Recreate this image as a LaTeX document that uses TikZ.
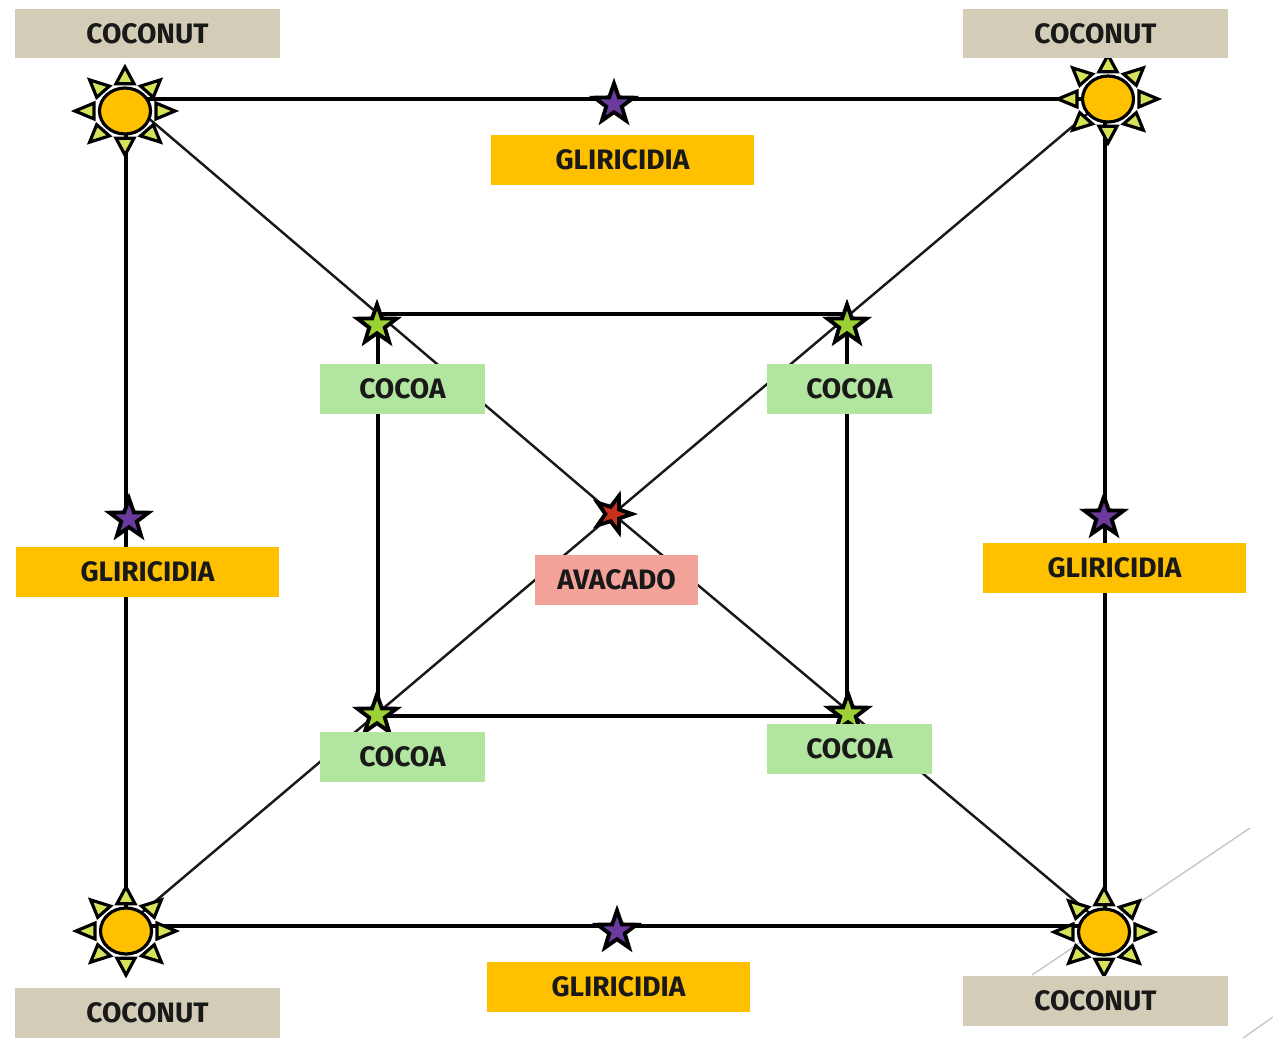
\documentclass[tikz,border=0pt]{standalone}
\usepackage{fontspec}
\setmainfont{Fira Sans}
\usetikzlibrary{shapes.geometric}
\usetikzlibrary{backgrounds}

\definecolor{coconutTan}{HTML}{D3CDB7}
\definecolor{gliriOrange}{HTML}{FFC000}
\definecolor{cocoaGreen}{HTML}{B2E5A0}
\definecolor{avacadoPink}{HTML}{F4A39B}
\definecolor{rayGreen}{HTML}{D6E35A}
\definecolor{starGreen}{HTML}{9BD136}
\definecolor{starPurple}{HTML}{6A3A9C}
\definecolor{starRed}{HTML}{C8321C}

\tikzset{
  plantbox/.style={rectangle,inner sep=0pt,minimum height=1cm,font=\fontsize{16}{18}\selectfont\bfseries,text=black!90},
  coconutbox/.style={plantbox,fill=coconutTan,minimum width=5.3cm},
  gliribox/.style={plantbox,fill=gliriOrange,minimum width=5.28cm},
  cocoabox/.style={plantbox,fill=cocoaGreen,minimum width=3.3cm},
  avacadobox/.style={plantbox,fill=avacadoPink,minimum width=3.26cm},
  treestar/.style={star,star points=5,star point ratio=2.5,inner sep=0pt,minimum size=0.82cm,draw=black,line width=2.2pt},
  sundisc/.style={ellipse,inner sep=0pt,minimum width=1.02cm,minimum height=0.92cm,draw=black,line width=1.8pt,fill=gliriOrange},
  sunray/.style={draw=black,line width=1.8pt,fill=rayGreen},
  thickrow/.style={black,line width=2pt},
  thinrow/.style={black!90,line width=1.4pt}
}

\begin{document}
\begin{tikzpicture}[x=0.02cm,y=-0.02cm]
\useasboundingbox (0,0) rectangle (1273,1038);

% sun marks
\foreach \nm/\px/\py in {sunTL/125/111,sunTR/1108/99,sunBL/126/931,sunBR/1104/932}{
  \foreach \a in {0,45,...,315}
    \draw[sunray,shift={(\px,\py)},yscale=0.88,rotate=\a] (31,-9) -- (50,0) -- (31,9) -- cycle;
  \node[sundisc] (\nm) at (\px,\py) {};
}

% stars
\node[treestar,fill=starPurple] (starTop) at (614,104) {};
\node[treestar,fill=starPurple] (starLeft) at (129,519) {};
\node[treestar,fill=starPurple] (starRight) at (1104,517) {};
\node[treestar,fill=starPurple] (starBottom) at (617,931) {};
\node[treestar,fill=starGreen] (starInTL) at (377,325) {};
\node[treestar,fill=starGreen] (starInTR) at (847,325) {};
\node[treestar,fill=starGreen] (starInBL) at (377,715) {};
\node[treestar,fill=starGreen] (starInBR) at (848,714) {};
\node[treestar,fill=starRed,shape border rotate=-18,minimum size=0.76cm] (starMid) at (613,514) {};

% labels
\node[coconutbox] (coconutTL) at (147.5,33.5) {COCONUT};
\node[coconutbox] (coconutTR) at (1095.5,33.5) {COCONUT};
\node[coconutbox] (coconutBL) at (147.5,1012.5) {COCONUT};
\node[coconutbox] (coconutBR) at (1095.5,1001) {COCONUT};
\node[gliribox] (gliriTop) at (622.5,160) {GLIRICIDIA};
\node[gliribox] (gliriLeft) at (147.5,572) {GLIRICIDIA};
\node[gliribox] (gliriRight) at (1114.5,568) {GLIRICIDIA};
\node[gliribox] (gliriBottom) at (618.5,986.5) {GLIRICIDIA};
\node[cocoabox] (cocoaTL) at (402.5,389) {COCOA};
\node[cocoabox] (cocoaTR) at (849.5,389) {COCOA};
\node[cocoabox] (cocoaBL) at (402.5,757) {COCOA};
\node[cocoabox] (cocoaBR) at (849.5,749) {COCOA};
\node[avacadobox] (avacado) at (616.5,580) {AVACADO};

% corners of the two squares
\coordinate (outTL) at (126,99);
\coordinate (outTR) at (1105,99);
\coordinate (outBL) at (126,926);
\coordinate (outBR) at (1105,926);
\coordinate (inTL) at (378,314);
\coordinate (inTR) at (847,314);
\coordinate (inBL) at (378,716);
\coordinate (inBR) at (847,716);
\coordinate (fadeA) at (1250,828);
\coordinate (fadeB) at (1032,975);
\coordinate (fadeC) at (1273,1017);
\coordinate (fadeD) at (1243,1038);

\begin{scope}[on background layer]
\draw[black!22,line width=0.8pt] (fadeA) -- (fadeB);
\draw[black!22,line width=0.8pt] (fadeC) -- (fadeD);
\draw[thickrow] (outTL) -- (outTR) -- (outBR) -- (outBL) -- cycle;
\draw[thickrow] (inTL) -- (inTR) -- (inBR) -- (inBL) -- cycle;
\draw[thinrow] (outTL) -- (starMid.center) -- (outBR);
\draw[thinrow] (outTR) -- (starMid.center) -- (outBL);
\end{scope}

\end{tikzpicture}
\end{document}
